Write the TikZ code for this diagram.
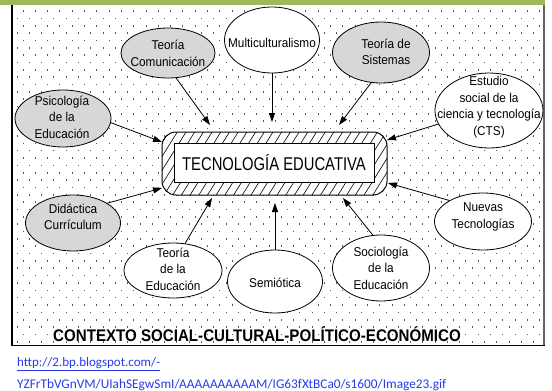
\documentclass[tikz,border=0pt]{standalone}
\usepackage{fontspec}
\setmainfont[FakeStretch=0.92]{Liberation Sans}
\newfontfamily\boxfont[FakeStretch=0.8]{Liberation Sans}
\newfontfamily\ctxfont[FakeStretch=0.9]{Liberation Sans}
\newfontfamily\urlfont{Carlito}
\usetikzlibrary{arrows.meta,shapes.geometric}
\definecolor{olivebar}{RGB}{155,187,89}
\definecolor{linkblue}{RGB}{40,60,235}
\definecolor{ellgray}{RGB}{215,215,215}
\tikzset{
 ell/.style={ellipse, draw=black, line width=0.8pt, inner sep=0pt},
 gry/.style={ell, fill=ellgray},
 wht/.style={ell, fill=white},
 txt/.style={align=center, inner sep=0pt, font=\fontsize{12.8}{16.5}\selectfont},
 arr/.style={line width=0.8pt, -{Triangle[length=9pt,width=6pt]}},
 dotmark/.style={fill=black!65}
}
\begin{document}
\begin{tikzpicture}[x=1pt,y=-1pt]
\useasboundingbox (0,0) rectangle (552,391);
\fill[white] (0,0) rectangle (552,391);
% green bar
\fill[olivebar] (0,0) rectangle (545,5);
% dotted background
\foreach \r in {0,...,45}{
  \pgfmathsetmacro{\yy}{11+7.35*\r}
  \pgfmathsetmacro{\xo}{mod(\r,2)==0 ? 23 : 17}
  \foreach \c in {0,...,42}{
    \pgfmathsetmacro{\xx}{\xo+12.3*\c}
    \ifdim\xx pt<541pt \fill[dotmark] (\xx-0.5,\yy-0.8) rectangle ++(1,1.6); \fi
  }
}
% frame
\draw[line width=1.5pt, black] (12,5) -- (12,345.5) -- (545,345.5);
\draw[line width=1.5pt, black!60] (544,5) -- (544,345);
% central box
\fill[white, rounded corners=14pt] (162,132) rectangle (387,195);
\begin{scope}
 \clip[rounded corners=14pt] (162,132) rectangle (387,195);
 \foreach \x in {100,108.7,...,420} \draw[line width=0.6pt] (\x,200) -- ++(45,-72);
\end{scope}
\node[draw, line width=1pt, rounded corners=14pt, minimum width=225pt, minimum height=63pt, inner sep=0pt] (box) at (274.5,163.5) {};
\node[draw, line width=1pt, fill=white, minimum width=200pt, minimum height=39pt, inner sep=0pt, font=\boxfont\fontsize{18.5}{20}\selectfont] (inner) at (274,162.5) {TECNOLOGÍA EDUCATIVA};
% ellipses
\node[gry, minimum width=94pt, minimum height=50pt] (com) at (168,53) {};
\node[txt] (comT) at (168,53.5) {Teoría\\Comunicación};
\node[wht, minimum width=95pt, minimum height=66pt] (mul) at (272,40) {};
\node[txt] (mulT) at (272,43) {Multiculturalismo};
\node[gry, minimum width=97pt, minimum height=61pt] (sis) at (381,52.5) {};
\node[txt] (sisT) at (386,52) {Teoría de\\Sistemas};
\node[wht, minimum width=108pt, minimum height=75pt] (cts) at (489,110.5) {};
\node[txt] (ctsT) at (489,107) {Estudio\\social de la\\ciencia y tecnología\\(CTS)};
\node[gry, minimum width=96pt, minimum height=57pt] (psi) at (63,118.5) {};
\node[txt] (psiT) at (62,117) {Psicología\\de la\\Educación};
\node[gry, minimum width=95pt, minimum height=56pt] (did) at (73,223) {};
\node[txt] (didT) at (73,217) {Didáctica\\Currículum};
\node[wht, minimum width=98pt, minimum height=55pt] (ted) at (173,270.5) {};
\node[txt] (tedT) at (173,269) {Teoría\\de la\\Educación};
\node[wht, minimum width=95pt, minimum height=63pt] (sem) at (275,281.5) {};
\node[txt] (semT) at (275,283) {Semiótica};
\node[wht, minimum width=97pt, minimum height=66pt] (soc) at (381,268) {};
\node[txt] (socT) at (381,268) {Sociología\\de la\\Educación};
\node[wht, minimum width=97pt, minimum height=57pt] (nue) at (483,221.5) {};
\node[txt] (nueT) at (483,217) {Nuevas\\Tecnologías};
% arrow tips
\coordinate (t1) at (210,125);
\coordinate (t2) at (272,122);
\coordinate (t3) at (339,125);
\coordinate (t4) at (387,140);
\coordinate (t5) at (162,142);
\coordinate (t6) at (162,188);
\coordinate (t7) at (212,198);
\coordinate (t8) at (275,203);
\coordinate (t9) at (343,198);
\coordinate (t10) at (388,183);
\draw[arr] (com.-72) -- (t1);
\draw[arr] (mul.south) -- (t2);
\draw[arr] (sis.-108) -- (t3);
\draw[arr] (cts.-165) -- (t4);
\draw[arr] (psi.-5) -- (t5);
\draw[arr] (did.30) -- (t6);
\draw[arr] (ted.66) -- (t7);
\draw[arr] (sem.north) -- (t8);
\draw[arr] (soc.104) -- (t9);
\draw[arr] (nue.148) -- (t10);
% context text
\node[inner sep=0pt, font=\ctxfont\bfseries\fontsize{16.8}{18}\selectfont] (ctx) at (257,334) {CONTEXTO SOCIAL-CULTURAL-POLÍTICO-ECONÓMICO};
% url
\node[anchor=west, inner sep=0pt, text=linkblue, font=\urlfont\fontsize{13}{15}\selectfont] (url1) at (17,364) {\underline{http://2.bp.blogspot.com/-}};
\node[anchor=west, inner sep=0pt, text=linkblue, font=\urlfont\fontsize{13.3}{15}\selectfont] (url2) at (17,385) {YZFrTbVGnVM/UIahSEgwSmI/AAAAAAAAAAM/IG63fXtBCa0/s1600/Image23.gif};
\end{tikzpicture}
\end{document}
